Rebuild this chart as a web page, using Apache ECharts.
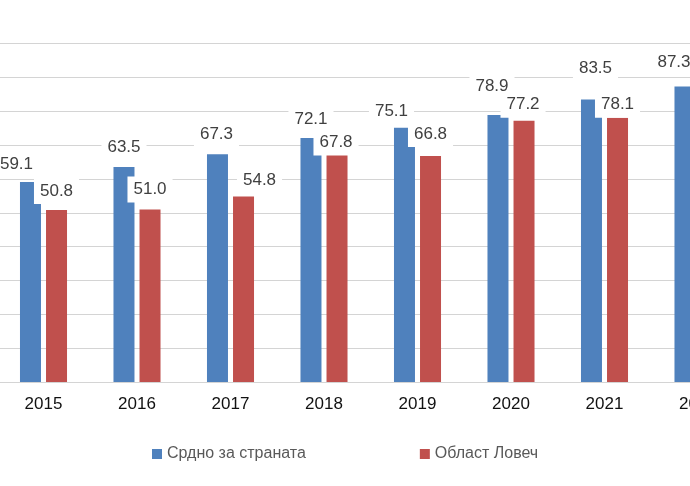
<!DOCTYPE html>
<html>
<head>
<meta charset="utf-8">
<script src="https://cdn.jsdelivr.net/npm/echarts@6/dist/echarts.min.js"></script>
<style>html,body{margin:0;padding:0;background:#fff}#c{width:690px;height:486px}</style>
</head>
<body>
<div id="c"></div>
<script>
const categories = ['2015', '2016', '2017', '2018', '2019', '2020', '2021', '2022'];
const countryAvg = [59.1, 63.5, 67.3, 72.1, 75.1, 78.9, 83.5, 87.3];
const lovech = [50.8, 51.0, 54.8, 67.8, 66.8, 77.2, 78.1, null];
const seriesNames = ['Срдно за страната', 'Област Ловеч'];

// label nudges (layout only, not data)
const blueNudge = [[-14, 1], [0, -1], [-1, -1], [0, 0], [-13, 2], [-6, -10], [4, -12], [-11, -5]];
const redNudge = [[0, 0], [0, -1], [16, 3], [-1, 9], [0, -3], [-1, 3], [0, 6], [0, 0]];

function build(vals, nudge) {
  return vals.map((v, i) => v == null ? null : ({ value: v, label: { offset: nudge[i] } }));
}

const labelStyle = {
  show: true,
  position: 'top',
  distance: 6,
  fontFamily: 'Liberation Sans, Arial, sans-serif',
  fontSize: 17,
  lineHeight: 20,
  color: '#404040',
  backgroundColor: '#ffffff',
  padding: [3, 6],
  formatter: p => p.value.toFixed(1)
};

const chart = echarts.init(document.getElementById('c'), null, { renderer: 'canvas' });
chart.setOption({
  animation: false,
  backgroundColor: '#ffffff',
  grid: { left: -3.25, width: 748, top: 43.6, height: 338.4, containLabel: false, outerBoundsMode: 'none' },
  legend: {
    data: seriesNames,
    left: 152,
    top: 446,
    padding: 0,
    itemWidth: 10,
    itemHeight: 10,
    itemGap: 114,
    icon: 'rect',
    textStyle: { fontFamily: 'Liberation Sans, Arial, sans-serif', fontSize: 16, color: '#595959' }
  },
  xAxis: {
    type: 'category',
    data: categories,
    axisTick: { show: false },
    axisLine: { lineStyle: { color: '#d4d4d4', width: 1 } },
    axisLabel: { margin: 14, fontFamily: 'Liberation Sans, Arial, sans-serif', fontSize: 17, color: '#111111' }
  },
  yAxis: {
    type: 'value',
    min: 0, max: 100, interval: 10,
    axisLabel: { show: false },
    axisLine: { show: false },
    axisTick: { show: false },
    splitLine: { lineStyle: { color: '#d4d4d4', width: 1 } }
  },
  series: [
    {
      name: seriesNames[0], type: 'bar', data: build(countryAvg, blueNudge),
      barWidth: 21, barGap: '24%',
      itemStyle: { color: '#4f81bd' },
      label: labelStyle
    },
    {
      name: seriesNames[1], type: 'bar', data: build(lovech, redNudge),
      barWidth: 21, barGap: '24%',
      itemStyle: { color: '#c0504d' },
      label: labelStyle
    }
  ]
});
</script>
</body>
</html>
